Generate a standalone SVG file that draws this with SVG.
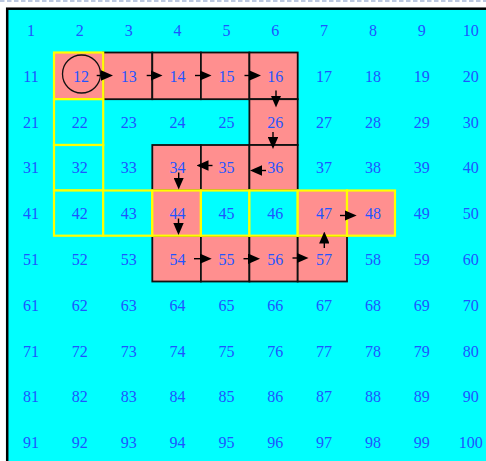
<svg xmlns="http://www.w3.org/2000/svg" width="486" height="461" viewBox="0 0 486 461">
<style>
.t{font-family:"Liberation Serif","Times New Roman",serif;font-size:16px;fill:#1f55ff;text-anchor:middle}
.pk{fill:#ff8f8f;stroke:#111;stroke-width:1.8}
.yp{fill:#ff8f8f;stroke:#ffff00;stroke-width:2.2}
.yc{fill:#00ffff;stroke:#ffff00;stroke-width:2.2}
.cn line{stroke:#000;stroke-width:1.4;marker-end:url(#ah)}
</style>
<defs>
<marker id="ah" markerWidth="12" markerHeight="10.4" refX="0.5" refY="5.2" orient="auto" markerUnits="userSpaceOnUse">
<path d="M0,0 L12,5.2 L0,10.4 z" fill="#000"/>
</marker>
</defs>
<rect x="0" y="0" width="486" height="461" fill="#ffffff"/>
<line x1="0" y1="1" x2="486" y2="1" stroke="#a6b6d6" stroke-width="1.3" stroke-dasharray="4.5,2.5"/>
<rect id="frame" x="7.2" y="8.7" width="520" height="480" fill="#00ffff" stroke="#000" stroke-width="2.5"/>

<g id="plain">
<g id="n1"><text class="t" x="31" y="36">1</text></g>
<g id="n2"><text class="t" x="79.85" y="36">2</text></g>
<g id="n3"><text class="t" x="128.7" y="36">3</text></g>
<g id="n4"><text class="t" x="177.55" y="36">4</text></g>
<g id="n5"><text class="t" x="226.4" y="36">5</text></g>
<g id="n6"><text class="t" x="275.25" y="36">6</text></g>
<g id="n7"><text class="t" x="324.1" y="36">7</text></g>
<g id="n8"><text class="t" x="372.95" y="36">8</text></g>
<g id="n9"><text class="t" x="421.8" y="36">9</text></g>
<g id="n10"><text class="t" x="470.65" y="36">10</text></g>
<g id="n11"><text class="t" x="31" y="81.8">11</text></g>
<g id="n17"><text class="t" x="324.1" y="81.8">17</text></g>
<g id="n18"><text class="t" x="372.95" y="81.8">18</text></g>
<g id="n19"><text class="t" x="421.8" y="81.8">19</text></g>
<g id="n20"><text class="t" x="470.65" y="81.8">20</text></g>
<g id="n21"><text class="t" x="31" y="127.6">21</text></g>
<g id="n23"><text class="t" x="128.7" y="127.6">23</text></g>
<g id="n24"><text class="t" x="177.55" y="127.6">24</text></g>
<g id="n25"><text class="t" x="226.4" y="127.6">25</text></g>
<g id="n27"><text class="t" x="324.1" y="127.6">27</text></g>
<g id="n28"><text class="t" x="372.95" y="127.6">28</text></g>
<g id="n29"><text class="t" x="421.8" y="127.6">29</text></g>
<g id="n30"><text class="t" x="470.65" y="127.6">30</text></g>
<g id="n31"><text class="t" x="31" y="173.4">31</text></g>
<g id="n33"><text class="t" x="128.7" y="173.4">33</text></g>
<g id="n37"><text class="t" x="324.1" y="173.4">37</text></g>
<g id="n38"><text class="t" x="372.95" y="173.4">38</text></g>
<g id="n39"><text class="t" x="421.8" y="173.4">39</text></g>
<g id="n40"><text class="t" x="470.65" y="173.4">40</text></g>
<g id="n41"><text class="t" x="31" y="219.2">41</text></g>
<g id="n49"><text class="t" x="421.8" y="219.2">49</text></g>
<g id="n50"><text class="t" x="470.65" y="219.2">50</text></g>
<g id="n51"><text class="t" x="31" y="265">51</text></g>
<g id="n52"><text class="t" x="79.85" y="265">52</text></g>
<g id="n53"><text class="t" x="128.7" y="265">53</text></g>
<g id="n58"><text class="t" x="372.95" y="265">58</text></g>
<g id="n59"><text class="t" x="421.8" y="265">59</text></g>
<g id="n60"><text class="t" x="470.65" y="265">60</text></g>
<g id="n61"><text class="t" x="31" y="310.8">61</text></g>
<g id="n62"><text class="t" x="79.85" y="310.8">62</text></g>
<g id="n63"><text class="t" x="128.7" y="310.8">63</text></g>
<g id="n64"><text class="t" x="177.55" y="310.8">64</text></g>
<g id="n65"><text class="t" x="226.4" y="310.8">65</text></g>
<g id="n66"><text class="t" x="275.25" y="310.8">66</text></g>
<g id="n67"><text class="t" x="324.1" y="310.8">67</text></g>
<g id="n68"><text class="t" x="372.95" y="310.8">68</text></g>
<g id="n69"><text class="t" x="421.8" y="310.8">69</text></g>
<g id="n70"><text class="t" x="470.65" y="310.8">70</text></g>
<g id="n71"><text class="t" x="31" y="356.6">71</text></g>
<g id="n72"><text class="t" x="79.85" y="356.6">72</text></g>
<g id="n73"><text class="t" x="128.7" y="356.6">73</text></g>
<g id="n74"><text class="t" x="177.55" y="356.6">74</text></g>
<g id="n75"><text class="t" x="226.4" y="356.6">75</text></g>
<g id="n76"><text class="t" x="275.25" y="356.6">76</text></g>
<g id="n77"><text class="t" x="324.1" y="356.6">77</text></g>
<g id="n78"><text class="t" x="372.95" y="356.6">78</text></g>
<g id="n79"><text class="t" x="421.8" y="356.6">79</text></g>
<g id="n80"><text class="t" x="470.65" y="356.6">80</text></g>
<g id="n81"><text class="t" x="31" y="402.4">81</text></g>
<g id="n82"><text class="t" x="79.85" y="402.4">82</text></g>
<g id="n83"><text class="t" x="128.7" y="402.4">83</text></g>
<g id="n84"><text class="t" x="177.55" y="402.4">84</text></g>
<g id="n85"><text class="t" x="226.4" y="402.4">85</text></g>
<g id="n86"><text class="t" x="275.25" y="402.4">86</text></g>
<g id="n87"><text class="t" x="324.1" y="402.4">87</text></g>
<g id="n88"><text class="t" x="372.95" y="402.4">88</text></g>
<g id="n89"><text class="t" x="421.8" y="402.4">89</text></g>
<g id="n90"><text class="t" x="470.65" y="402.4">90</text></g>
<g id="n91"><text class="t" x="31" y="448.2">91</text></g>
<g id="n92"><text class="t" x="79.85" y="448.2">92</text></g>
<g id="n93"><text class="t" x="128.7" y="448.2">93</text></g>
<g id="n94"><text class="t" x="177.55" y="448.2">94</text></g>
<g id="n95"><text class="t" x="226.4" y="448.2">95</text></g>
<g id="n96"><text class="t" x="275.25" y="448.2">96</text></g>
<g id="n97"><text class="t" x="324.1" y="448.2">97</text></g>
<g id="n98"><text class="t" x="372.95" y="448.2">98</text></g>
<g id="n99"><text class="t" x="421.8" y="448.2">99</text></g>
<g id="n100"><text class="t" x="470.65" y="448.2">100</text></g>
</g>

<g id="path-cells">
<g id="n13"><rect class="pk" x="103.2" y="52.5" width="49.1" height="46.7"/><text class="t" x="128.7" y="81.8">13</text></g>
<g id="n14"><rect class="pk" x="152.3" y="52.5" width="48.6" height="46.7"/><text class="t" x="177.55" y="81.8">14</text></g>
<g id="n15"><rect class="pk" x="200.9" y="52.5" width="48.5" height="46.7"/><text class="t" x="226.4" y="81.8">15</text></g>
<g id="n16"><rect class="pk" x="249.4" y="52.5" width="48.3" height="46.7"/><text class="t" x="275.25" y="81.8">16</text></g>
<g id="n26"><rect class="pk" x="249.4" y="99.2" width="48.3" height="45.8"/><text class="t" x="275.25" y="127.6">26</text></g>
<g id="n34"><rect class="pk" x="152.3" y="145" width="48.6" height="45.5"/><text class="t" x="177.55" y="173.4">34</text></g>
<g id="n35"><rect class="pk" x="200.9" y="145" width="48.5" height="45.5"/><text class="t" x="226.4" y="173.4">35</text></g>
<g id="n36"><rect class="pk" x="249.4" y="145" width="48.3" height="45.5"/><text class="t" x="275.25" y="173.4">36</text></g>
<g id="n54"><rect class="pk" x="152.3" y="235.7" width="48.6" height="45.8"/><text class="t" x="177.55" y="265">54</text></g>
<g id="n55"><rect class="pk" x="200.9" y="235.7" width="48.5" height="45.8"/><text class="t" x="226.4" y="265">55</text></g>
<g id="n56"><rect class="pk" x="249.4" y="235.7" width="48.3" height="45.8"/><text class="t" x="275.25" y="265">56</text></g>
<g id="n57"><rect class="pk" x="297.7" y="235.7" width="49.3" height="45.8"/><text class="t" x="324.1" y="265">57</text></g>
</g>

<g id="marked-cells">
<g id="n12"><rect class="yp" x="54" y="52.5" width="49.2" height="46.7"/><text class="t" x="81" y="81.8">12</text><circle cx="81.5" cy="74" r="19" fill="none" stroke="#111" stroke-width="1.3"/></g>
<g id="n22"><rect class="yc" x="54" y="99.2" width="49.2" height="45.8"/><text class="t" x="79.85" y="127.6">22</text></g>
<g id="n32"><rect class="yc" x="54" y="145" width="49.2" height="45.5"/><text class="t" x="79.85" y="173.4">32</text></g>
<g id="n42"><rect class="yc" x="54" y="190.5" width="49.2" height="45.2"/><text class="t" x="79.85" y="219.2">42</text></g>
<g id="n43"><rect class="yc" x="103.2" y="190.5" width="49.1" height="45.2"/><text class="t" x="128.7" y="219.2">43</text></g>
<g id="n44"><rect class="yp" x="152.3" y="190.5" width="48.6" height="45.2"/><text class="t" x="177.55" y="219.2">44</text></g>
<g id="n45"><rect class="yc" x="200.9" y="190.5" width="48.5" height="45.2"/><text class="t" x="226.4" y="219.2">45</text></g>
<g id="n46"><rect class="yc" x="249.4" y="190.5" width="48.3" height="45.2"/><text class="t" x="275.25" y="219.2">46</text></g>
<g id="n47"><rect class="yp" x="297.7" y="190.5" width="49.3" height="45.2"/><text class="t" x="324.1" y="219.2">47</text></g>
<g id="n48"><rect class="yp" x="347" y="190.5" width="48" height="45.2"/><text class="t" x="372.95" y="219.2">48</text></g>
</g>

<g id="connectors" class="cn">
<line x1="96.7" y1="75.5" x2="101.5" y2="75.5"/>
<line x1="146.7" y1="75.5" x2="151" y2="75.5"/>
<line x1="195" y1="75.5" x2="200" y2="75.5"/>
<line x1="244.5" y1="75.5" x2="249.5" y2="75.5"/>
<line x1="276" y1="90.5" x2="276" y2="96"/>
<line x1="273" y1="132" x2="273" y2="137.5"/>
<line x1="266" y1="170.5" x2="261.5" y2="170.5"/>
<line x1="212.5" y1="165.5" x2="208" y2="165.5"/>
<line x1="178.7" y1="172.5" x2="178.7" y2="178"/>
<line x1="178.5" y1="218.5" x2="178.5" y2="223.5"/>
<line x1="194" y1="258.7" x2="200.2" y2="258.7"/>
<line x1="243.5" y1="258.7" x2="248.5" y2="258.7"/>
<line x1="292.5" y1="258" x2="297" y2="258"/>
<line x1="324.3" y1="248" x2="324.3" y2="243"/>
<line x1="340" y1="215.5" x2="345.2" y2="215.5"/>
</g>
</svg>
